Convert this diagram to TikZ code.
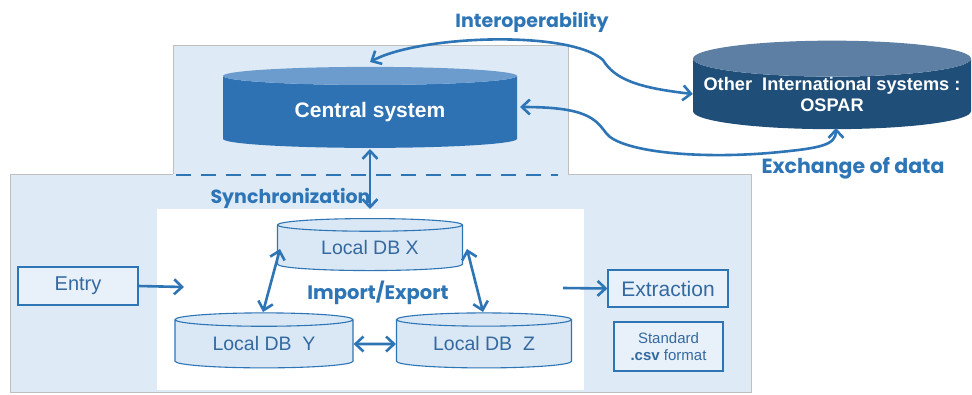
\documentclass[tikz,border=0pt]{standalone}
\usepackage{fontspec}
\setmainfont{Liberation Sans}
\newfontfamily\gothic{Poppins}
\usetikzlibrary{positioning, shapes.geometric, arrows.meta}

\definecolor{panelblue}{RGB}{222,235,247}
\definecolor{panelgrey}{RGB}{191,191,191}
\definecolor{linkblue}{RGB}{46,117,182}
\definecolor{centralbody}{RGB}{46,114,180}
\definecolor{centraltop}{RGB}{108,156,206}
\definecolor{otherbody}{RGB}{31,78,121}
\definecolor{othertop}{RGB}{92,127,163}
\definecolor{dbfill}{RGB}{218,232,245}
\definecolor{dbtext}{RGB}{52,105,160}
\definecolor{boxfill}{RGB}{232,241,250}

\begin{document}
\begin{tikzpicture}[x=1pt, y=-1pt,
    link/.style={draw=linkblue, line width=2.6pt, {Straight Barb[length=8pt,width=15pt]}-{Straight Barb[length=8pt,width=15pt]}},
    onelink/.style={draw=linkblue, line width=2.6pt, -{Straight Barb[length=8pt,width=15pt]}},
    localdb/.style={cylinder, shape border rotate=90, aspect=0.13, draw=linkblue, line width=1.1pt,
        cylinder uses custom fill, cylinder body fill=dbfill, cylinder end fill=dbfill,
        minimum width=185pt, minimum height=52pt, inner sep=0pt, text=dbtext, font=\fontsize{19.5}{22}\selectfont},
    plainbox/.style={draw=linkblue, line width=1.1pt, fill=boxfill, text=dbtext, inner sep=0pt},
    tag/.style={text=linkblue, font=\gothic\bfseries\fontsize{19}{21}\selectfont}]
    \useasboundingbox (0,0) rectangle (972,394);

    % Draw the two panels
    \filldraw[fill=panelblue, draw=panelgrey, line width=0.8pt] (10,174) rectangle (751,392);
    \fill[panelblue] (173,45) rectangle (568,176);
    \draw[panelgrey, line width=0.8pt] (173,174) -- (173,45) -- (568,45) -- (568,174);
    \fill[white] (157,209) rectangle (584,390);
    \draw[linkblue, line width=2.6pt, dash pattern=on 15pt off 10pt] (176,175) -- (558,175);

    % Draw the central system and the other systems
    \node[cylinder, shape border rotate=90, aspect=0.12, cylinder uses custom fill,
        cylinder body fill=centralbody, cylinder end fill=centraltop,
        minimum width=294pt, minimum height=81pt, inner sep=0pt,
        text=white, font=\bfseries\fontsize{21}{24}\selectfont] (cs) at (370,112) {Central system};
    \node[cylinder, shape border rotate=90, aspect=0.14, cylinder uses custom fill,
        cylinder body fill=otherbody, cylinder end fill=othertop,
        minimum width=278pt, minimum height=84pt, inner sep=0pt, align=center,
        text=white, font=\bfseries\fontsize{18.2}{21}\selectfont] (ox) at (832,94) {Other~~International systems :\\OSPAR};

    % Draw the local databases
    \node[localdb] (dbx) at (370,248) {Local DB X};
    \node[localdb, minimum width=178pt, minimum height=55pt] (dby) at (264,344) {Local DB~~Y};
    \node[localdb, minimum width=175pt, minimum height=55pt] (dbz) at (484,344) {Local DB~~Z};

    % Draw the entry and extraction boxes
    \node[plainbox, minimum width=120pt, minimum height=38pt, font=\fontsize{20}{23}\selectfont] (entry) at (78,286) {Entry};
    \node[plainbox, minimum width=120pt, minimum height=37pt, font=\fontsize{21}{23}\selectfont] (extr) at (668,288.5) {Extraction};
    \node[plainbox, minimum width=109pt, minimum height=49pt, align=center, font=\fontsize{15}{17.5}\selectfont] (csv) at (668.5,346.5) {Standard\\\textbf{.csv} format};

    % Draw the labels
    \node[tag] (interop) at (532,22) {Interoperability};
    \node[tag, font=\gothic\bfseries\fontsize{20.5}{23}\selectfont] (exch) at (853,168) {Exchange of data};
    \node[tag, anchor=west] (sync) at (207,198) {Synchronization};
    \node[tag, font=\gothic\bfseries\fontsize{19.5}{22}\selectfont] (impexp) at (378,293) {Import/Export};

    % Draw the links to the other systems
    \coordinate (intA) at (370,62);
    \coordinate (exA) at (520,107);
    \coordinate (exB) at (836,128);
    \draw[link] (intA) .. controls (420,35) and (570,30) .. (603,60) .. controls (615,80) and (640,88) .. (ox.west);
    \draw[link] (exA) .. controls (585,107) and (595,118) .. (606,133) .. controls (620,152) and (700,160) .. (780,152) .. controls (820,148) and (836,145) .. (exB);

    % Draw the synchronization link
    \coordinate (syncA) at (370,149);
    \coordinate (syncB) at (370,209);
    \draw[link] (syncA) -- (syncB);

    % Draw the import/export links
    \draw[link] (280,249) -- (263,312);
    \draw[link] (467,249) -- (483,312);
    \draw[link] (dby.east) -- (dbz.west);

    % Draw entry and extraction flows
    \coordinate (inEnd) at (184,287);
    \coordinate (outStart) at (563,288);
    \draw[onelink] (entry.east) -- (inEnd);
    \draw[onelink] (outStart) -- (extr.west);
\end{tikzpicture}
\end{document}
